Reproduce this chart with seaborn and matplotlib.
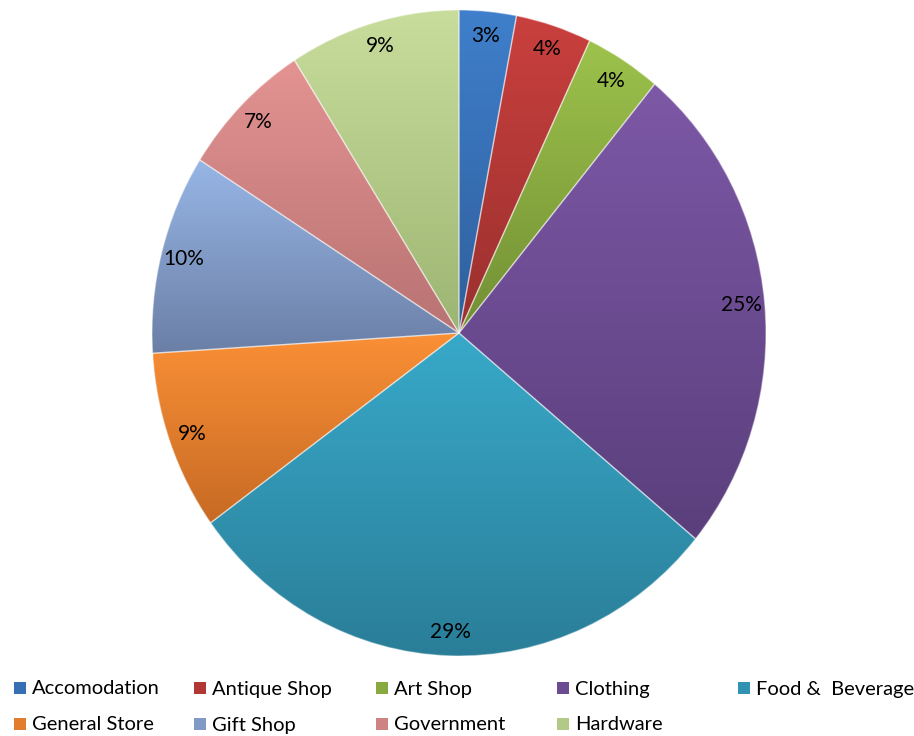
import numpy as np
import matplotlib
matplotlib.use("Agg")
import matplotlib.pyplot as plt
import seaborn as sns
from matplotlib.colors import to_rgb
from matplotlib.patches import Rectangle

categories = ["Accomodation", "Antique Shop", "Art Shop", "Clothing", "Food &  Beverage",
              "General Store", "Gift Shop", "Government", "Hardware"]
shares = [3, 4, 4, 25, 29, 9, 10, 7, 9]

# light (upper) and dark (lower) shade of every slice
top_colors = ["#3f7fcb", "#c9403e", "#9dc24c", "#7d58a6", "#38a9c9",
              "#fa9036", "#97b6e6", "#e39392", "#c8dd9c"]
bottom_colors = ["#2f5f9c", "#9a302e", "#728f34", "#5a3f7c", "#2a7e98",
                 "#c76a24", "#6b7fa6", "#b87372", "#9db572"]

sns.set_theme(style="white")
plt.rcParams["font.family"] = ["Lato", "DejaVu Sans"]

W, H = 914, 736
fig = plt.figure(figsize=(W / 100, H / 100), dpi=100)
left, right, top, bottom = 152, 766, 10, 656
ax = fig.add_axes([left / W, 1 - bottom / H, (right - left) / W, (bottom - top) / H])

wedges, texts, autotexts = ax.pie(
    shares, colors=top_colors, startangle=90, counterclock=False,
    autopct="%d%%", pctdistance=0.925,
    wedgeprops=dict(edgecolor=(1, 1, 1, 0.4), linewidth=1.0),
    textprops=dict(fontsize=15, color="black"),
)

# vertical shading inside each slice
for w, c0, c1 in zip(wedges, top_colors, bottom_colors):
    bb = w.get_path().get_extents(w.get_patch_transform())
    t = np.linspace(0, 1, 256)[:, None]
    grad = (1 - t) * np.array(to_rgb(c0)) + t * np.array(to_rgb(c1))
    grad = np.repeat(grad[:, None, :], 2, axis=1)
    im = ax.imshow(grad, extent=[bb.x0, bb.x1, bb.y0, bb.y1], origin="upper",
                   aspect="auto", interpolation="bilinear", zorder=1)
    im.set_clip_path(w)
    w.set_facecolor("none")
    w.set_zorder(2)

for t_ in autotexts:
    t_.set_zorder(5)

ax.set_aspect("auto")
ax.set_xlim(-1, 1)
ax.set_ylim(-1, 1)
ax.axis("off")

# legend laid out in two rows
col_x = [14, 194, 376, 557, 738]
row_y = [688, 724]
for i, (name, c0, c1) in enumerate(zip(categories, top_colors, bottom_colors)):
    r, c = divmod(i, 5)
    x, y = col_x[c], row_y[r]
    mid = tuple((np.array(to_rgb(c0)) + np.array(to_rgb(c1))) / 2)
    fig.patches.append(Rectangle((x / W, 1 - (y + 6) / H), 12 / W, 12 / H,
                                 transform=fig.transFigure, facecolor=mid,
                                 edgecolor="none"))
    fig.text((x + 18) / W, 1 - (y + 1) / H, name, fontsize=14.5, va="center",
             ha="left", color="black")

fig.savefig("out.png", dpi=100, facecolor="white")
